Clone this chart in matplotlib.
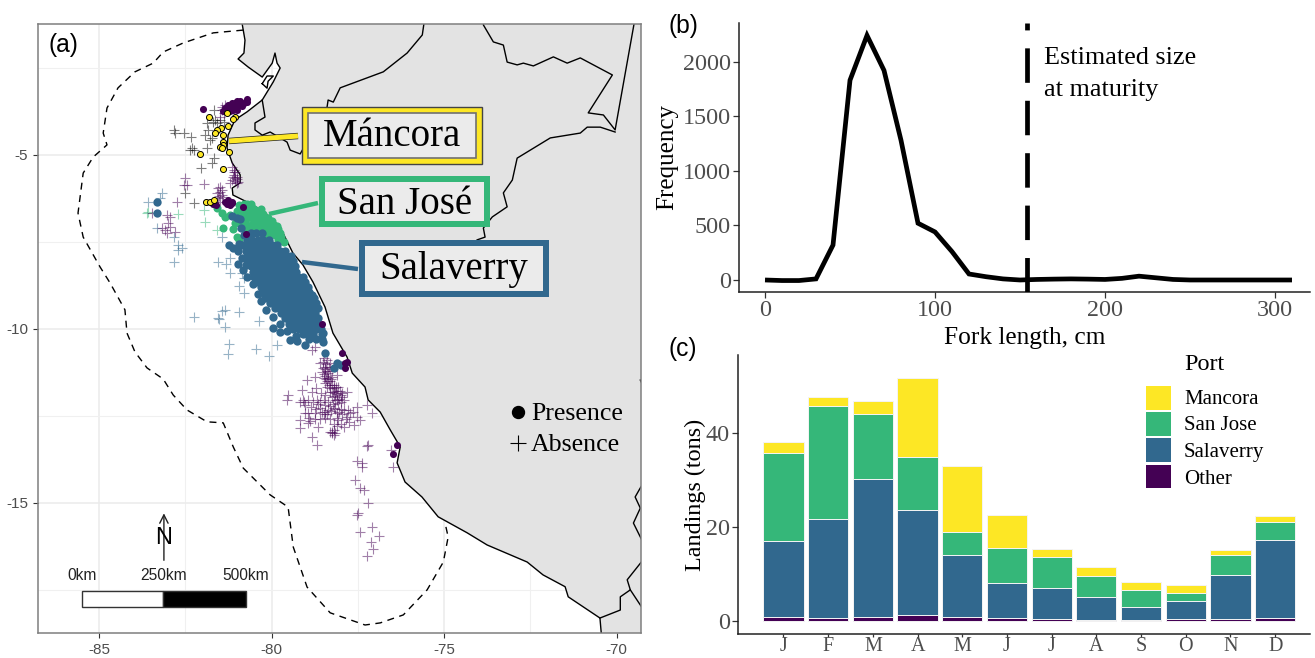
import matplotlib
matplotlib.use("Agg")
import matplotlib.pyplot as plt
from matplotlib.patches import Rectangle, Polygon
from matplotlib.lines import Line2D

plt.rcParams['axes.unicode_minus'] = False

W, H = 1315, 658
PURPLE, BLUE, GREEN, YELLOW = '#440154', '#31688E', '#35B779', '#FDE725'
SERIF = 'Liberation Serif'
SANS = 'Liberation Sans'
GREY = '#4D4D4D'

# ---------- panel (b) data ----------
fork_cm = [0, 10, 20, 30, 40, 50, 60, 70, 80, 90, 100, 110, 120, 130, 140, 150, 160, 170, 180, 190, 200, 210, 220, 230,
           240, 250, 260, 270, 280, 290, 300, 310]
freq = [0, -5, -5, 10, 320, 1830, 2240, 1920, 1280, 520, 440, 260, 55, 30, 10, 0, 5, 8, 10, 8, 5, 15, 35, 20,
        5, 0, 0, 0, 0, 0, 0, 0]
maturity_cm = 154

# ---------- panel (c) data ----------
months = ['J', 'F', 'M', 'A', 'M', 'J', 'J', 'A', 'S', 'O', 'N', 'D']
other = [.8, .6, .9, 1.2, .9, .7, .45, .3, .15, .35, .45, .65]
salaverry = [16.2, 21.2, 29.3, 22.4, 13.2, 7.4, 6.65, 4.8, 2.85, 3.95, 9.35, 16.65]
san_jose = [18.7, 24, 13.8, 11.4, 4.9, 7.4, 6.6, 4.5, 3.5, 1.7, 4.2, 3.8]
mancora = [2.3, 1.8, 2.8, 16.6, 13.9, 7, 1.6, 1.9, 1.9, 1.7, 1.2, 1.2]

# ---------- panel (a) data: lon, lat ----------
coast = [(-80.85, -1.0), (-80.85, -1.24), (-80.77, -1.70), (-80.80, -2.07), (-80.97, -2.24), (-80.68, -2.47),
         (-80.27, -2.76), (-79.98, -2.36), (-79.90, -2.07), (-79.84, -2.36), (-79.75, -2.50), (-79.95, -2.90),
         (-80.27, -3.42), (-80.71, -3.76), (-81.06, -3.99), (-81.26, -4.43), (-81.29, -4.80), (-81.20, -5.06),
         (-81.14, -5.23), (-80.91, -5.57), (-80.91, -5.80), (-81.14, -5.95), (-81.12, -6.15), (-80.53, -6.44),
         (-80.04, -6.78), (-79.67, -7.24), (-79.38, -7.82), (-79.09, -8.16), (-78.80, -8.65), (-78.45, -9.37),
         (-78.22, -10.12), (-77.81, -10.81), (-77.66, -11.27), (-77.29, -11.67), (-77.20, -12.04), (-76.85, -12.39),
         (-76.56, -12.90), (-76.27, -13.39), (-76.36, -13.85), (-76.13, -14.40), (-75.64, -14.83), (-75.17, -15.40),
         (-74.33, -15.86), (-73.75, -16.21), (-72.59, -16.70), (-72.13, -17.07), (-71.49, -17.41), (-71.40, -17.70),
         (-70.48, -18.31), (-70.42, -19.0)]
gulf_island = [(-80.27, -2.95), (-80.13, -2.73), (-79.95, -2.73), (-80.10, -2.88), (-80.13, -3.08), (-80.27, -2.95)]
border_ecuador = [(-80.27, -3.42), (-80.19, -3.91), (-80.48, -4.08), (-80.48, -4.28), (-80.27, -4.43), (-80.04, -4.34),
                  (-79.55, -4.63), (-79.46, -4.86), (-79.17, -4.97), (-78.39, -3.62), (-78.36, -3.42), (-78.21, -3.48),
                  (-78.01, -3.07), (-76.76, -2.61), (-76.07, -2.07), (-75.63, -1.55), (-75.55, -1.0)]
border_colombia = [(-73.86, -1.0), (-73.86, -1.26), (-73.57, -1.75), (-73.28, -1.84), (-73.17, -2.33), (-72.88, -2.41),
                   (-72.70, -2.36), (-72.41, -2.44), (-71.83, -2.18), (-71.43, -2.36), (-71.05, -2.21), (-70.12, -2.70),
                   (-70.82, -3.79), (-70.38, -3.85), (-70.04, -4.28), (-69.45, -1.0)]
border_brazil = [(-70.04, -4.34), (-70.47, -4.20), (-70.85, -4.20), (-71.05, -4.37), (-71.92, -4.51), (-72.88, -5.09),
                 (-73.02, -5.72), (-73.28, -6.09), (-73.17, -6.49), (-73.60, -6.78), (-73.86, -7.10), (-73.81, -7.36),
                 (-74.04, -7.44)]
border_bolivia = [(-69.2, -14.4), (-69.31, -14.57), (-69.46, -14.83), (-69.31, -15.15), (-69.51, -15.58), (-69.2, -16.2)]
border_chile = [(-69.2, -16.6), (-69.69, -17.21), (-69.60, -17.50), (-69.89, -17.70), (-69.89, -18.08), (-70.48, -18.31)]
border_chile2 = [(-69.60, -17.50), (-69.2, -18.1)]
border_top = [(-69.31, -11.47), (-69.2, -11.7)]

eez = [(-80.82, -1.41), (-81.69, -1.49), (-82.56, -1.78), (-83.14, -2.04), (-83.43, -2.36), (-83.96, -2.61),
       (-84.45, -3.07), (-84.77, -3.65), (-84.88, -4.37), (-84.77, -4.71), (-85.17, -5.06), (-85.46, -5.52),
       (-85.61, -6.67), (-85.46, -7.36), (-84.97, -8.22), (-84.68, -8.68), (-84.25, -9.45), (-84.19, -10.12),
       (-83.96, -10.66), (-83.61, -11.12), (-83.14, -11.44), (-82.85, -11.90), (-82.45, -12.33), (-81.87, -12.67),
       (-81.40, -12.70), (-81.11, -13.39), (-80.82, -14.00), (-80.04, -14.77), (-79.52, -15.12), (-79.37, -16.27),
       (-78.97, -17.42), (-78.30, -18.16), (-77.29, -18.51), (-76.85, -18.45), (-76.18, -18.22), (-75.49, -17.50),
       (-75.02, -16.70), (-74.88, -15.98), (-74.97, -15.58)]

absent_purple = [(-78.83, -10.60), (-78.73, -10.51), (-78.49, -10.84), (-78.39, -10.89), (-78.59, -10.99), (-78.44, -11.08),
                 (-78.30, -10.99), (-78.54, -11.23), (-78.35, -11.27), (-78.49, -11.42), (-78.39, -11.51), (-78.25, -11.37),
                 (-78.10, -11.32), (-78.39, -11.66), (-78.20, -11.71), (-78.06, -11.66), (-78.15, -11.85), (-77.96, -11.95),
                 (-77.82, -11.80), (-78.10, -12.04), (-78.25, -11.95), (-77.91, -12.04), (-78.98, -11.47), (-78.73, -11.37),
                 (-79.12, -11.75), (-78.83, -11.80), (-79.51, -11.90), (-79.56, -12.04), (-79.17, -12.09), (-79.07, -12.09),
                 (-78.69, -12.04), (-78.49, -12.04), (-78.93, -12.42), (-79.02, -12.42), (-78.73, -12.42), (-78.44, -12.38),
                 (-78.35, -12.33), (-78.20, -12.28), (-77.91, -12.33), (-77.72, -12.42), (-77.52, -12.23), (-77.52, -12.52),
                 (-77.43, -12.62), (-77.62, -12.76), (-77.91, -12.81), (-77.82, -12.52), (-78.06, -12.62), (-78.25, -12.95),
                 (-78.20, -13.05), (-78.64, -12.81), (-78.88, -12.66), (-79.17, -12.62), (-79.17, -12.86), (-78.93, -12.71),
                 (-78.83, -13.11), (-78.69, -13.33), (-78.06, -12.14), (-78.59, -12.28), (-78.10, -12.42), (-77.24, -12.19),
                 (-77.09, -12.42), (-78.47, -11.3), (-78.42, -11.45), (-78.3, -11.5), (-78.18, -11.6), (-78.12, -11.78),
                 (-78.0, -11.9), (-78.3, -11.8), (-78.0, -12.3), (-78.1, -12.55), (-77.85, -12.6), (-78.6, -12.1),
                 (-78.27, -12.35), (-79.1, -12.05), (-78.25, -13.0), (-78.15, -12.98), (-78.45, -11.15),
                 (-78.52, -10.95), (-78.42, -11.0), (-78.34, -11.1), (-78.5, -11.12), (-78.4, -11.2), (-78.3, -11.22),
                 (-78.46, -11.36), (-78.36, -11.4), (-78.28, -11.45), (-78.44, -11.55), (-78.34, -11.6), (-78.24, -11.62),
                 (-78.14, -11.68), (-78.3, -11.7), (-78.22, -11.8), (-78.1, -11.88), (-78.02, -11.78), (-77.95, -11.85),
                 (-78.18, -11.92), (-78.05, -12.0), (-77.98, -12.1), (-78.15, -12.05), (-78.22, -12.15), (-78.35, -12.1),
                 (-78.45, -12.2), (-78.3, -12.22), (-78.15, -12.3), (-78.05, -12.38), (-77.95, -12.45), (-77.78, -12.32),
                 (-77.65, -12.4), (-78.48, -12.45), (-78.38, -12.45), (-78.55, -12.38), (-78.65, -12.15), (-78.8, -12.1),
                 (-78.95, -12.05), (-79.03, -12.2), (-78.85, -12.25), (-78.7, -12.3), (-78.7, -11.7), (-78.58, -11.85),
                 (-78.45, -11.9), (-78.9, -12.55), (-78.75, -12.6), (-78.6, -12.6), (-78.45, -12.55), (-78.3, -12.6),
                 (-78.2, -12.72), (-78.0, -12.72), (-77.75, -12.68), (-78.3, -12.97), (-78.2, -12.9), (-78.1, -12.8),
                 (-77.24, -13.36), (-77.19, -13.33), (-76.54, -13.48), (-76.48, -13.96), (-77.52, -13.81), (-77.38, -13.86),
                 (-77.38, -13.96), (-77.57, -14.34), (-77.43, -14.58), (-77.33, -14.63), (-77.19, -14.99), (-77.48, -15.28),
                 (-77.52, -15.35), (-77.45, -15.84), (-77.09, -15.70), (-76.88, -15.95), (-77.12, -16.11), (-77.06, -16.32),
                 (-77.24, -16.52),
                 (-82.50, -5.67), (-82.55, -5.86), (-82.46, -5.86), (-81.95, -5.83), (-82.75, -6.34), (-83.04, -6.72),
                 (-82.94, -6.77), (-82.99, -6.96), (-83.18, -7.11), (-83.08, -7.16), (-82.94, -7.06), (-83.04, -7.25),
                 (-82.79, -7.20), (-83.47, -6.68),
                 (-81.15, -5.34), (-81.05, -5.48), (-81.0, -5.62), (-81.15, -5.72), (-80.96, -5.77), (-81.1, -5.57),
                 (-81.2, -5.81), (-81.0, -5.8), (-81.1, -5.42), (-81.05, -5.66), (-81.08, -5.5), (-81.0, -5.7),
                 (-81.12, -5.63), (-81.06, -5.74), (-81.54, -5.96), (-81.44, -6.0), (-81.59, -6.1), (-81.44, -6.15),
                 (-81.54, -6.25), (-81.49, -6.34), (-81.5, -6.05), (-81.48, -5.92), (-81.52, -6.18), (-81.42, -6.22),
                 (-81.44, -3.61), (-81.39, -3.8), (-81.49, -3.9), (-81.45, -3.7), (-81.35, -3.55), (-81.38, -3.68)]
absent_grey = [(-82.84, -4.28), (-82.79, -4.38), (-82.55, -4.38), (-82.34, -4.47), (-82.31, -4.81), (-82.26, -4.86),
               (-82.36, -4.86), (-81.87, -4.81), (-81.92, -4.43), (-81.73, -4.52), (-81.78, -4.57), (-81.68, -3.71),
               (-81.87, -4.09), (-81.83, -4.28), (-81.63, -3.99), (-81.49, -3.99), (-81.39, -4.04), (-81.68, -5.10),
               (-81.73, -5.24), (-82.05, -5.38), (-82.5, -6.1), (-82.26, -6.39), (-81.58, -4.09), (-81.7, -4.05)]
absent_blue = [(-83.57, -6.34), (-83.18, -6.10), (-83.23, -6.25), (-83.33, -7.11), (-82.84, -7.35), (-82.70, -7.59),
               (-82.60, -7.68), (-82.70, -7.73), (-82.82, -8.09), (-81.44, -7.37), (-81.54, -8.09), (-81.31, -8.13),
               (-81.2, -7.97), (-81.2, -8.38), (-80.86, -8.40), (-80.81, -8.54), (-80.93, -8.78), (-80.79, -8.96),
               (-80.93, -9.50), (-81.44, -9.48), (-81.54, -9.69), (-82.26, -9.65), (-81.34, -9.47), (-81.51, -9.72),
               (-81.36, -9.95), (-80.35, -9.77), (-81.22, -10.44), (-81.25, -10.73), (-80.44, -10.59), (-80.06, -10.77),
               (-79.84, -10.46)]
absent_green = [(-81.97, -6.58), (-81.94, -6.94), (-81.58, -7.17), (-83.57, -6.63), (-82.70, -6.70), (-83.62, -6.66)]

present_green = [(-80.8, -6.4), (-80.6, -6.4), (-80.9, -6.55), (-80.7, -6.55), (-80.5, -6.55), (-80.3, -6.55),
                 (-81.58, -6.52), (-81.43, -6.67), (-81.35, -6.78), (-80.85, -6.7), (-80.65, -6.7), (-80.45, -6.7),
                 (-80.25, -6.7), (-80.1, -6.8), (-80.75, -6.85), (-80.55, -6.85), (-80.35, -6.85), (-80.15, -6.85),
                 (-80.0, -6.9), (-80.6, -7.0), (-80.4, -7.0), (-80.2, -7.0), (-80.0, -7.0), (-79.85, -7.05),
                 (-80.45, -7.15), (-80.3, -7.15), (-80.1, -7.15), (-79.9, -7.15), (-79.75, -7.25), (-80.1, -7.3),
                 (-79.9, -7.3), (-79.72, -7.35), (-79.8, -7.45), (-79.65, -7.5), (-81.40, -7.10), (-81.11, -7.13),
                 (-81.0, -7.36), (-80.94, -7.44), (-79.95, -7.64), (-81.06, -6.95), (-81.2, -6.72), (-81.0, -6.6),
                 (-80.95, -6.45), (-80.75, -7.0), (-80.6, -7.15), (-80.7, -6.42), (-80.5, -6.62), (-80.35, -6.72),
                 (-80.18, -6.78), (-80.6, -6.78), (-80.45, -6.92), (-80.28, -6.92), (-80.1, -6.95), (-79.92, -7.0),
                 (-80.52, -7.08), (-80.35, -7.08), (-80.18, -7.08), (-80.0, -7.1), (-79.82, -7.12), (-80.75, -7.12),
                 (-80.92, -6.95), (-80.2, -7.22), (-80.0, -7.24), (-80.4, -7.22), (-79.78, -7.38), (-80.85, -6.88)]
salaverry_rows = [
    (-7.25, [-80.6, -80.44, -80.28]),
    (-7.45, [-80.72, -80.56, -80.4, -80.24, -80.08]),
    (-7.6, [-80.85, -80.64, -80.48, -80.32, -80.16, -80.0, -79.84]),
    (-7.75, [-80.75, -80.56, -80.4, -80.24, -80.08, -79.92, -79.76, -79.6]),
    (-7.9, [-80.7, -80.54, -80.38, -80.22, -80.06, -79.9, -79.74, -79.58, -79.45]),
    (-8.05, [-80.68, -80.5, -80.34, -80.18, -80.02, -79.86, -79.7, -79.54, -79.38]),
    (-8.2, [-80.6, -80.44, -80.28, -80.12, -79.96, -79.8, -79.64, -79.48, -79.32]),
    (-8.35, [-80.55, -80.4, -80.24, -80.08, -79.92, -79.76, -79.6, -79.44, -79.28]),
    (-8.5, [-80.5, -80.34, -80.18, -80.02, -79.86, -79.7, -79.54, -79.38, -79.22, -79.1]),
    (-8.65, [-80.4, -80.28, -80.12, -79.96, -79.8, -79.64, -79.48, -79.32, -79.16, -79.04]),
    (-8.8, [-80.32, -80.2, -80.04, -79.88, -79.72, -79.56, -79.4, -79.24, -79.08, -78.95]),
    (-8.95, [-80.25, -80.1, -79.96, -79.8, -79.64, -79.48, -79.32, -79.16, -79.0, -78.9]),
    (-9.1, [-80.2, -80.04, -79.88, -79.72, -79.56, -79.4, -79.24, -79.08, -78.92, -78.78]),
    (-9.25, [-80.05, -79.92, -79.76, -79.6, -79.44, -79.28, -79.12, -78.96, -78.82, -78.7]),
    (-9.4, [-79.9, -79.76, -79.6, -79.44, -79.28, -79.12, -78.96, -78.8, -78.7]),
    (-9.55, [-79.72, -79.54, -79.38, -79.22, -79.06, -78.9, -78.75]),
    (-9.7, [-79.62, -79.42, -79.26, -79.1, -78.94, -78.78, -78.66]),
    (-9.85, [-79.5, -79.34, -79.18, -79.02, -78.88, -78.68]),
    (-10.0, [-79.38, -79.2, -79.04, -78.9, -78.7, -78.58]),
    (-10.15, [-79.1, -78.95, -78.8, -78.55]),
    (-10.3, [-78.9, -78.7, -78.55]),
]
present_blue_extra = [(-83.32, -6.35), (-83.32, -6.67), (-81.23, -7.59), (-81.0, -6.81), (-80.9, -6.85), (-81.15, -6.75),
                      (-80.88, -7.1), (-80.8, -7.3), (-80.97, -8.13), (-80.82, -8.3), (-78.5, -10.12), (-78.5, -10.37),
                      (-78.44, -10.69), (-78.1, -10.98), (-78.2, -11.12), (-78.0, -11.03), (-78.83, -9.02), (-78.65, -9.4),
                      (-79.75, -10.09), (-79.46, -10.32), (-79.03, -10.46), (-81.11, -7.67), (-79.95, -9.97),
                      (-80.95, -7.55), (-80.98, -7.75), (-80.85, -7.95), (-80.75, -8.15), (-80.7, -8.5), (-80.55, -8.7),
                      (-80.4, -9.0), (-80.3, -9.2), (-80.15, -9.45), (-79.95, -9.65), (-79.75, -9.85), (-79.55, -10.05),
                      (-79.3, -10.2), (-79.25, -10.35)]
present_purple = [(-81.2, -3.75), (-81.1, -3.65), (-81.0, -3.6), (-80.9, -3.55), (-80.8, -3.5), (-80.7, -3.47),
                  (-81.3, -3.75), (-81.2, -3.6), (-81.1, -3.55), (-81.0, -3.45), (-80.9, -3.45), (-81.0, -3.7),
                  (-80.85, -3.6), (-81.15, -3.5), (-81.35, -3.65), (-80.72, -3.38), (-81.98, -3.68),
                  (-81.25, -3.68), (-81.12, -3.72), (-81.05, -3.52), (-80.95, -3.52), (-81.25, -3.55), (-81.4, -3.75),
                  (-81.7, -6.4), (-81.6, -6.45), (-81.35, -6.35), (-81.25, -6.3), (-81.15, -6.35), (-81.2, -6.45),
                  (-81.3, -6.42), (-80.83, -6.5), (-80.74, -7.27), (-78.54, -9.86), (-77.96, -10.69), (-77.87, -10.98),
                  (-77.81, -10.95), (-77.87, -11.12), (-76.36, -13.33), (-76.47, -13.59), (-81.14, -6.38)]
present_yellow = [(-81.81, -3.91), (-81.29, -3.79), (-81.06, -3.91), (-81.11, -3.97), (-81.26, -4.17), (-81.46, -4.22),
                  (-81.58, -4.28), (-81.64, -4.37), (-81.40, -4.43), (-81.40, -4.63), (-81.40, -4.71), (-81.49, -4.77),
                  (-81.43, -4.80), (-81.23, -4.91), (-82.07, -4.97), (-81.40, -5.40), (-81.90, -6.35), (-81.78, -6.35),
                  (-81.67, -6.29)]

scale_labels = ['0km', '250km', '500km']


def rect_axes(l, t, r, b):
    return [l / W, 1 - b / H, (r - l) / W, (b - t) / H]


def fx(x):
    return x / W


def fy(y):
    return 1 - y / H


fig = plt.figure(figsize=(W / 100, H / 100), dpi=100, facecolor='white')

# ===== panel (a) =====
ax = fig.add_axes(rect_axes(38, 24, 641, 633))
ax.set_xlim(-86.77, -69.29)
ax.set_ylim(-18.74, -1.235)
ax.set_axisbelow(True)
ax.set_xticks([-85, -80, -75, -70])
ax.set_yticks([-5, -10, -15])
ax.set_xticks([-82.5, -77.5, -72.5], minor=True)
ax.set_yticks([-2.5, -7.5, -12.5, -17.5], minor=True)
ax.grid(True, which='major', color='#EBEBEB', lw=1.1)
ax.grid(True, which='minor', color='#F0F0F0', lw=0.8)
ax.tick_params(which='minor', length=0)
ax.tick_params(which='major', length=3.5, width=0.8, color='#333333', labelcolor=GREY, labelsize=11)
for lbl in ax.get_xticklabels() + ax.get_yticklabels():
    lbl.set_family(SANS)
for s in ax.spines.values():
    s.set_color('#7F7F7F')
    s.set_linewidth(1.1)
    s.set_zorder(20)

land = coast + [(-69.0, -19.0), (-69.0, -1.0)]
ax.add_patch(Polygon(land, closed=True, fc='#E3E3E3', ec='none', zorder=1))
for line in (coast, gulf_island, border_ecuador, border_colombia, border_brazil, border_bolivia, border_chile,
             border_chile2, border_top):
    ax.plot([p[0] for p in line], [p[1] for p in line], color='black', lw=1.0, zorder=2, solid_joinstyle='round')
ax.plot([p[0] for p in eez], [p[1] for p in eez], color='black', lw=1.0, ls=(0, (5, 4)), zorder=2)


def scat(points, **kw):
    ax.scatter([p[0] for p in points], [p[1] for p in points], **kw)


cross = dict(marker='+', s=42, linewidths=0.8, alpha=0.5, zorder=3)
scat(absent_blue, color=BLUE, **cross)
scat(absent_green, color=GREEN, **cross)
scat(absent_grey, color='black', **cross)
scat(absent_purple, color=PURPLE, **cross)

scat(present_green, color=GREEN, s=34, linewidths=0, zorder=4)
blue_pts = [(lon, lat) for lat, lons in salaverry_rows for lon in lons] + present_blue_extra
scat(blue_pts, color=BLUE, s=36, linewidths=0, zorder=5)
scat(present_purple, color=PURPLE, s=26, linewidths=0, zorder=6)
scat(present_yellow, color=YELLOW, edgecolors='black', s=19, linewidths=0.7, zorder=7)

# scale bar and north arrow (map coordinates)
ax.add_patch(Rectangle((-85.49, -17.99), 2.35, 0.46, fc='white', ec='#333333', lw=1, zorder=8))
ax.add_patch(Rectangle((-83.14, -17.99), 2.40, 0.46, fc='black', ec='#333333', lw=1, zorder=8))
for lon, txt in zip([-85.49, -83.14, -80.74], scale_labels):
    ax.text(lon, -17.1, txt, ha='center', va='center', family=SANS, fontsize=11.2, color='#222222', zorder=8)
ax.annotate('', xy=(-83.12, -15.3), xytext=(-83.12, -16.65),
            arrowprops=dict(arrowstyle='->', color='#222222', lw=1.0, mutation_scale=15, shrinkA=0, shrinkB=0), zorder=8)
ax.text(-83.12, -16.0, 'N', ha='center', va='center', family=SANS, fontsize=17, color='black', zorder=9)

# ===== panel (b) =====
bx = fig.add_axes(rect_axes(739, 23, 1310, 292))
bx.set_xlim(-15.3, 320.6)
bx.set_ylim(-110, 2354)
bx.plot(fork_cm, freq, color='black', lw=3.4, solid_joinstyle='miter', solid_capstyle='butt', zorder=3)
bx.plot([maturity_cm, maturity_cm], [-110, 2354], color='black', lw=3.4, ls=(0, (7.3, 3.8)), dash_capstyle='butt', zorder=3)
bx.set_xticks([0, 100, 200, 300])
bx.set_yticks([0, 500, 1000, 1500, 2000])
bx.set_xlabel('Fork length, cm', family=SERIF, fontsize=18.3, labelpad=4)
bx.set_ylabel('Frequency', family=SERIF, fontsize=18, labelpad=3)
bx.text(164, 2030, 'Estimated size', family=SERIF, fontsize=18.8, va='center', ha='left')
bx.text(164, 1740, 'at maturity', family=SERIF, fontsize=18.8, va='center', ha='left')

# ===== panel (c) =====
cx = fig.add_axes(rect_axes(738, 355, 1310, 634))
cx.set_xlim(-0.018, 12.78)
cx.set_ylim(-2.77, 56.6)
pos = list(range(1, 13))
bottom = [0.0] * 12
for vals, col in ((other, PURPLE), (salaverry, BLUE), (san_jose, GREEN), (mancora, YELLOW)):
    cx.bar(pos, vals, bottom=bottom, width=0.9, color=col, edgecolor='#F4F4F4', linewidth=0.7, zorder=3)
    bottom = [b + v for b, v in zip(bottom, vals)]
cx.set_xticks(pos)
cx.set_xticklabels(months)
cx.set_yticks([0, 20, 40])
cx.set_ylabel('Landings (tons)', family=SERIF, fontsize=17.4, labelpad=0)

for a in (bx, cx):
    for side in ('top', 'right'):
        a.spines[side].set_visible(False)
    for side in ('left', 'bottom'):
        a.spines[side].set_linewidth(1.1)
        a.spines[side].set_color('#222222')
    a.tick_params(length=4, width=0.9, color='#333333', labelcolor=GREY, labelsize=17.4, pad=2)
    for lbl in a.get_xticklabels() + a.get_yticklabels():
        lbl.set_family(SERIF)
cx.tick_params(axis='x', labelsize=14.5, pad=0, length=2)

# legend for panel (c)
fig.text(fx(1184.5), fy(365), 'Port', family=SERIF, fontsize=17.4, va='center', ha='left')
for col, name, t, b, yc in ((YELLOW, 'Mancora', 386, 410, 400), (GREEN, 'San Jose', 412, 436, 426),
                            (BLUE, 'Salaverry', 438, 462, 452), (PURPLE, 'Other', 464.5, 488, 479)):
    fig.add_artist(Rectangle((fx(1146), fy(b)), (1170.5 - 1146) / W, (b - t) / H, transform=fig.transFigure, fc=col, ec='none'))
    fig.text(fx(1184), fy(yc), name, family=SERIF, fontsize=15, va='center', ha='left')


# ===== overlays on panel (a) =====
def connector(x0, y0, x1, y1, color, lw, edge=False):
    if edge:
        fig.add_artist(Line2D([fx(x0), fx(x1)], [fy(y0), fy(y1)], color='#222222', lw=lw + 1.0, solid_capstyle='butt', zorder=30))
    fig.add_artist(Line2D([fx(x0), fx(x1)], [fy(y0), fy(y1)], color=color, lw=lw, solid_capstyle='butt', zorder=31))


def label_box(l, t, r, b, color, txt, xc, yc, bw=6, dark=False):
    fig.add_artist(Rectangle((fx(l), fy(b)), (r - l) / W, (b - t) / H, transform=fig.transFigure,
                             fc=color, ec='#444444' if dark else 'none', lw=1, zorder=32))
    fig.add_artist(Rectangle((fx(l + bw), fy(b - bw)), (r - l - 2 * bw) / W, (b - t - 2 * bw) / H, transform=fig.transFigure,
                             fc='#EBEBEB', ec='#707070' if dark else 'none', lw=1.2, zorder=33))
    fig.text(fx(xc), fy(yc), txt, family=SERIF, fontsize=28, ha='center', va='center', color='black', zorder=34)


connector(229, 141, 298, 136, YELLOW, 3.6, edge=True)
connector(269, 214, 318, 203, GREEN, 3.2)
connector(302, 262, 358, 269, BLUE, 3.2)
label_box(302, 107, 482, 164, YELLOW, 'Máncora', 392, 137, dark=True)
label_box(319, 176, 490, 227, GREEN, 'San José', 405, 205)
label_box(359, 240, 549, 297, BLUE, 'Salaverry', 454, 270)

fig.add_artist(Line2D([fx(518)], [fy(412)], marker='o', ms=8.6, color='black', ls='none', zorder=30))
fig.add_artist(Line2D([fx(518)], [fy(443)], marker='+', ms=11, mew=0.8, color='black', ls='none', zorder=30))
fig.text(fx(531), fy(414), 'Presence', family=SERIF, fontsize=18.6, va='center', ha='left', zorder=30)
fig.text(fx(531), fy(445), 'Absence', family=SERIF, fontsize=18.6, va='center', ha='left', zorder=30)

fig.text(fx(48), fy(45), '(a)', family=SANS, fontsize=17.7, va='center', ha='left', zorder=30)
fig.text(fx(668), fy(26), '(b)', family=SANS, fontsize=17.7, va='center', ha='left', zorder=30)
fig.text(fx(668), fy(349), '(c)', family=SANS, fontsize=17.7, va='center', ha='left', zorder=30)

fig.savefig('out.png', dpi=100)
